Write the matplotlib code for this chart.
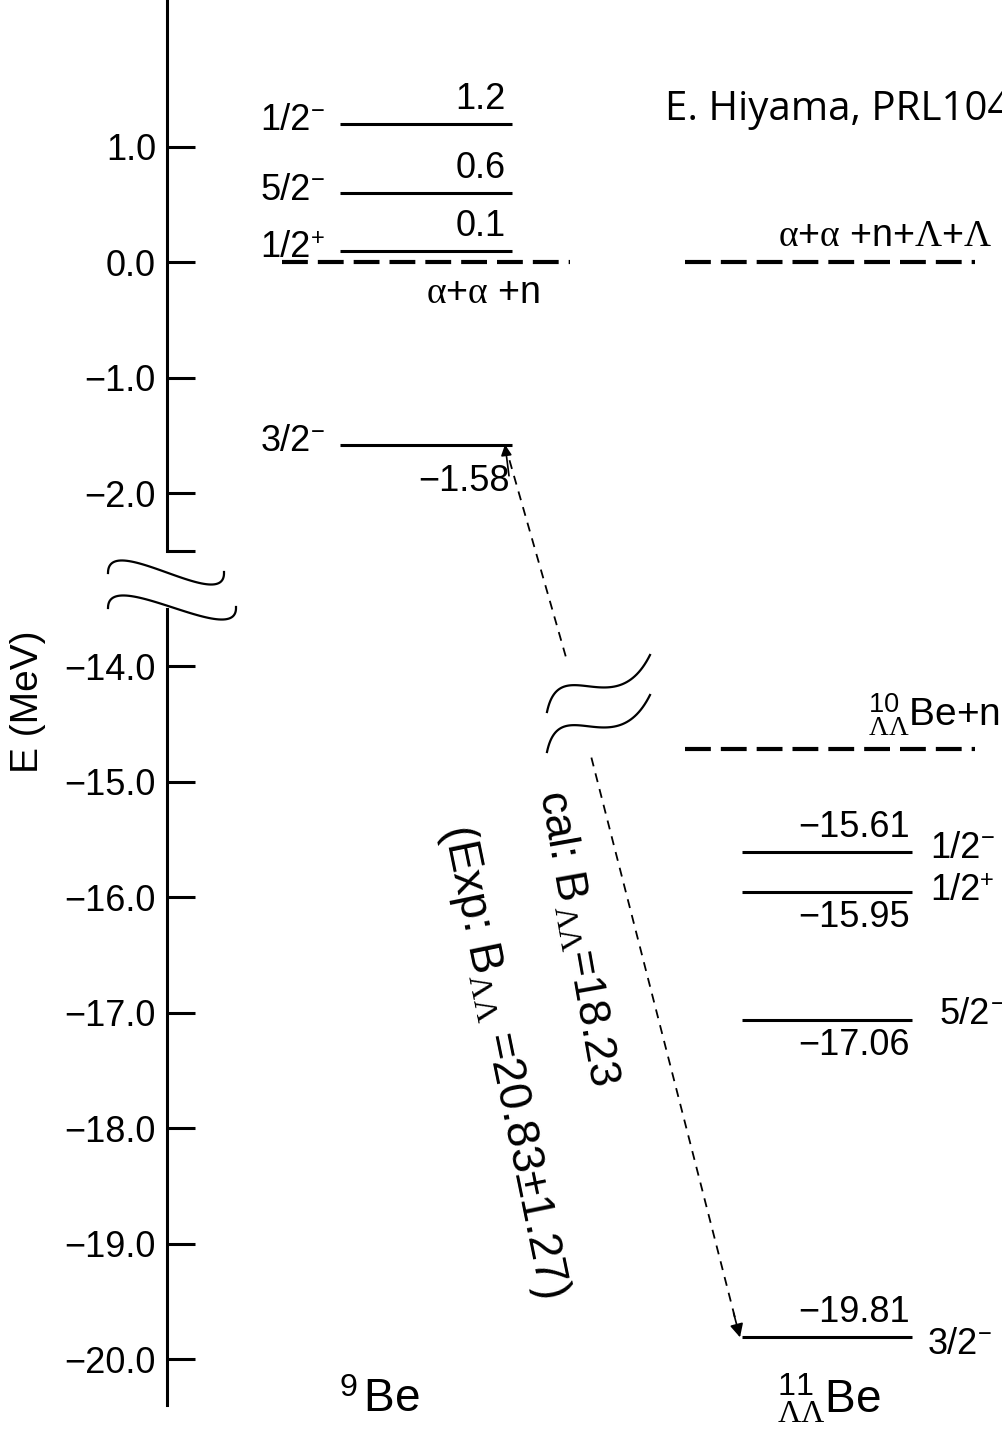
import numpy as np
import matplotlib.pyplot as plt
from matplotlib.ticker import FixedLocator, FuncFormatter

plt.rcParams['font.family'] = ['Liberation Sans', 'DejaVu Sans']
plt.rcParams['mathtext.fontset'] = 'custom'
plt.rcParams['mathtext.rm'] = 'Liberation Serif'
plt.rcParams['mathtext.it'] = 'Liberation Serif:italic'
plt.rcParams['mathtext.bf'] = 'Liberation Serif:bold'
plt.rcParams['mathtext.sf'] = 'Liberation Sans'

# 9Be levels (MeV, measured from the a+a+n threshold)
be9_energy = [1.2, 0.6, 0.1, -1.58]
be9_spin = ['1/2-', '5/2-', '1/2+', '3/2-']
be9_threshold = [0.0]

# 11 LL Be levels
be11_energy = [-15.61, -15.95, -17.06, -19.81]
be11_spin = ['1/2-', '1/2+', '5/2-', '3/2-']
be11_threshold = [0.0, -14.72]

# B_LL
b_ll_cal = 18.23
b_ll_exp = 20.83
b_ll_exp_err = 1.27

yticks = [1.0, 0.0, -1.0, -2.0, -14.0, -15.0, -16.0, -17.0, -18.0, -19.0, -20.0]

# where the value label goes (above / below the level line)
be9_place = ['above', 'above', 'above', 'below']
be11_place = ['above', 'below', 'below', 'above']

# broken energy axis: -2.5 .. -13.5 squeezed into a small gap
HI, LO, GAP = -2.5, -13.5, 0.5
SHIFT = (HI - LO) - GAP


def fwd(e):
    e = np.asarray(e, float)
    mid = HI + (e - HI) * GAP / (HI - LO)
    return np.where(e >= HI, e, np.where(e <= LO, e + SHIFT, mid))


def inv(y):
    y = np.asarray(y, float)
    mid = HI + (y - HI) * (HI - LO) / GAP
    return np.where(y >= HI, y, np.where(y <= HI - GAP, y - SHIFT, mid))


def num(e):
    return f"{e:g}".replace('-', '\u2212')


fig = plt.figure(figsize=(10.03, 14.32), dpi=100)
ax = fig.add_axes([167 / 1003, 0, 836 / 1003, 1])
ax.set_yscale('function', functions=(fwd, inv))
ax.set_xlim(167, 1003)
ax.set_ylim(-20.63, 2.27)
for s in ax.spines.values():
    s.set_visible(False)

fs = 26


def spin_label(x, e, s, dy, ha):
    # J value plus a raised parity sign
    t = ax.annotate(s[:-1], (x, e), xytext=(0, dy), textcoords='offset points',
                    ha=ha, va='center', fontsize=fs)
    sign = '\u2212' if s[-1] == '-' else '+'
    ax.annotate(sign, xy=(1, 1), xycoords=t, xytext=(0, 2), textcoords='offset points',
                ha='left', va='top', fontsize=17)


# axis line in two pieces
ax.plot([167, 167], [2.3, HI], color='k', lw=2.2, clip_on=False)
ax.plot([167, 167], [LO, -20.4], color='k', lw=2.2, clip_on=False)
ax.yaxis.set_major_locator(FixedLocator(yticks + [HI]))
ax.yaxis.set_major_formatter(FuncFormatter(
    lambda v, _: '' if v == HI else f"{v:.1f}".replace('-', '\u2212')))
ax.tick_params(axis='y', direction='in', length=20, width=2.2, labelsize=26, pad=8)
ax.tick_params(axis='x', bottom=False, labelbottom=False)

dash = (0, (6.2, 2.4))

# 9Be column
ax.hlines(be9_energy, 340, 512, color='k', lw=2.2)
ax.hlines(be9_threshold, 282, 570, color='k', lw=3, linestyles=[dash])
for e, sp, pl in zip(be9_energy, be9_spin, be9_place):
    spin_label(311, e, sp, 2, 'right')
    if pl == 'above':
        ax.annotate(num(e), (506, e), xytext=(0, 5), textcoords='offset points',
                    ha='right', va='bottom', fontsize=fs)
    else:
        ax.annotate(num(e), (510, e), xytext=(0, -14), textcoords='offset points',
                    ha='right', va='top', fontsize=fs)
ax.annotate(r'$\mathrm{\alpha}$+$\mathrm{\alpha}$ +n', (483, be9_threshold[0]), xytext=(0, -9),
            textcoords='offset points', ha='center', va='top', fontsize=27)

# 11 LL Be column
ax.hlines(be11_energy, 742, 912, color='k', lw=2.2)
ax.hlines(be11_threshold, 685, 975, color='k', lw=3, linestyles=[dash])
spin_x = [930, 930, 940, 928]
spin_dy = [3, 1, 4, -5]
for e, sp, pl, sx, sdy in zip(be11_energy, be11_spin, be11_place, spin_x, spin_dy):
    spin_label(sx, e, sp, sdy, 'left')
    if pl == 'above':
        ax.annotate(num(e), (910, e), xytext=(0, 5), textcoords='offset points',
                    ha='right', va='bottom', fontsize=fs)
    else:
        ax.annotate(num(e), (910, e), xytext=(0, -6), textcoords='offset points',
                    ha='right', va='top', fontsize=fs)
ax.annotate(r'$\mathrm{\alpha}$+$\mathrm{\alpha}$ +n+$\Lambda$+$\Lambda$', (992, be11_threshold[0]),
            xytext=(0, 6), textcoords='offset points', ha='right', va='bottom', fontsize=27)
ax.annotate(r'${}^{\mathsf{10}}_{\Lambda\Lambda}$Be+n', (1000, be11_threshold[1]),
            xytext=(0, 8), textcoords='offset points', ha='right', va='bottom', fontsize=28)

# dashed arrow 9Be(3/2-) -> 11LLBe(3/2-), interrupted by a break mark
x0, e0 = 505, be9_energy[-1]
x1, e1 = 740, be11_energy[-1]
f0, f1 = fwd(e0), fwd(e1)


def xline(e):
    return x0 + (x1 - x0) * (fwd(e) - f0) / (f1 - f0)


gap_top, gap_bot = -13.92, -14.79
ax.plot([x0, xline(gap_top) + 5], [e0, gap_top], color='k', lw=1.3, ls=(0, (5, 4)))
ax.plot([xline(gap_bot) + 4, x1], [gap_bot, e1], color='k', lw=1.3, ls=(0, (5, 4)))
ax.annotate('', xy=(x0, e0), xytext=(x0 + 4, -1.85),
            arrowprops=dict(arrowstyle='-|>', color='k', lw=1.2, mutation_scale=16,
                            shrinkA=0, shrinkB=0))
ax.annotate('', xy=(x1, e1), xytext=(xline(-19.6), -19.6),
            arrowprops=dict(arrowstyle='-|>', color='k', lw=1.2, mutation_scale=20,
                            shrinkA=0, shrinkB=0))

# free layout items in pixel coordinates
ov = fig.add_axes([0, 0, 1, 1], zorder=5)
ov.set_xlim(0, 1003)
ov.set_ylim(1432, 0)
ov.axis('off')


def bezier(p0, p1, p2, p3, n=60):
    t = np.linspace(0, 1, n)[:, None]
    p = ((1 - t) ** 3 * np.array(p0) + 3 * (1 - t) ** 2 * t * np.array(p1)
         + 3 * (1 - t) * t ** 2 * np.array(p2) + t ** 3 * np.array(p3))
    return p[:, 0], p[:, 1]


for dx, dy in [(0, 0), (12, 35)]:
    bx, by = bezier((108, 573 + dy), (108, 530 + dy), (226 + dx, 615 + dy), (224 + dx, 572 + dy))
    ov.plot(bx, by, color='k', lw=1.6)
for dy in [0, 40]:
    bx, by = bezier((547, 712 + dy), (560, 650 + dy), (615, 725 + dy), (650, 655 + dy))
    ov.plot(bx, by, color='k', lw=1.6)

ov.text(28, 702, 'E (MeV)', rotation=90, ha='center', va='center', fontsize=28)
ov.text(665, 110, 'E. Hiyama, PRL104, 212502 (2010)', ha='left', va='center',
        fontsize=29, family=['Open Sans', 'DejaVu Sans'])
ov.text(379, 1400, r'$^{\mathsf{9}}\,$Be', ha='center', va='center', fontsize=33)
ov.text(829, 1398, r'${}^{\mathsf{11}}_{\Lambda\Lambda}$Be', ha='center', va='center', fontsize=33)

ov.text(578, 938, r'cal: B$_{\,\Lambda\Lambda}$=' + f'{b_ll_cal:.2f}', rotation=-80,
        ha='center', va='center', rotation_mode='anchor', fontsize=32)
ov.text(504, 1061, r'(Exp: B$_{\Lambda\Lambda}$ =' + f'{b_ll_exp:.2f}\u00b1{b_ll_exp_err:.2f})',
        rotation=-78.4, ha='center', va='center', rotation_mode='anchor', fontsize=33)

fig.savefig('out.png', dpi=100)
